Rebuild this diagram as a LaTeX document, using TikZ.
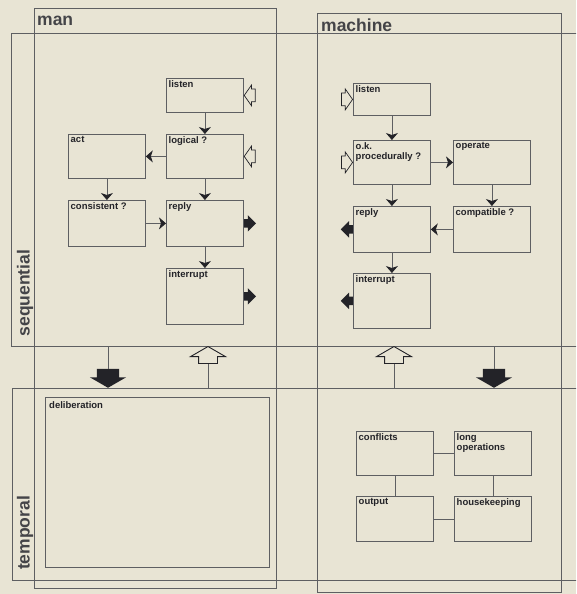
\documentclass[tikz,border=0pt]{standalone}
\usepackage{fontspec}
\setsansfont{Liberation Sans}
\usetikzlibrary{positioning,arrows.meta,shapes.arrows}
\definecolor{cPaper}{HTML}{E8E4D4}
\definecolor{cLine}{HTML}{5E5F62}
\definecolor{cInk}{HTML}{232328}

\begin{document}
\begin{tikzpicture}[x=1pt,y=-1pt,font=\sffamily\bfseries,
  frame/.style={draw=cLine,line width=0.9pt,anchor=north west,inner sep=0pt},
  box/.style={draw=cLine,line width=0.8pt,anchor=north west,inner sep=0pt,minimum width=77pt,minimum height=#1},
  lab/.style={anchor=north west,inner sep=2.5pt,align=left,text=cInk,font=\sffamily\bfseries\fontsize{9.5}{10}\selectfont},
  hd/.style={inner sep=0pt,text=cInk!85,font=\sffamily\bfseries\fontsize{17.5}{18}\selectfont},
  flow/.style={draw=cLine,line width=0.8pt,-{Stealth[length=7pt,width=12pt,inset=2pt,color=cInk]}},
  link/.style={draw=cLine,line width=0.8pt},
  inarr/.style={single arrow,draw=cInk,line width=0.7pt,fill=cPaper,inner xsep=0pt,inner ysep=6pt,minimum height=11pt,single arrow head extend=4pt,single arrow tip angle=110},
  outarr/.style={single arrow,fill=cInk,inner xsep=0pt,inner ysep=4pt,minimum height=12pt,single arrow head extend=4pt,single arrow tip angle=90},
  bigup/.style={single arrow,draw=cInk,line width=0.9pt,fill=cPaper,shape border rotate=90,inner xsep=9pt,inner ysep=0pt,minimum height=17pt,single arrow head extend=8pt,single arrow tip angle=120},
  bigdn/.style={single arrow,fill=cInk,shape border rotate=270,inner xsep=11pt,inner ysep=0pt,minimum height=19pt,single arrow head extend=7pt,single arrow tip angle=120}]
\useasboundingbox (0,0) rectangle (576,594);
\fill[cPaper] (0,0) rectangle (576,594);
\clip (0,0) rectangle (576,594);
% ---------- frames ----------
\node[frame,minimum width=242pt,minimum height=580pt] (man) at (34,8) {};
\node[frame,minimum width=244pt,minimum height=579pt] (mach) at (317,13) {};
\node[frame,minimum width=600pt,minimum height=313pt] (seq) at (11,33) {};
\node[frame,minimum width=600pt,minimum height=192pt] (temp) at (12,388) {};
\node[hd,anchor=base west] (manT) at (37,26) {man};
\node[hd,anchor=base west] (machT) at (321,32) {machine};
\node[hd,rotate=90] (seqT) at (25,293) {sequential};
\node[hd,rotate=90] (tempT) at (25,533) {temporal};
% ---------- man, sequential ----------
\node[box=34pt,label={[lab]north west:listen}] (mnLis) at (166,78) {};
\node[box=44pt,label={[lab]north west:logical ?}] (mnLog) at (166,134) {};
\node[box=44pt,label={[lab]north west:act}] (mnAct) at (68,134) {};
\node[box=46pt,label={[lab]north west:consistent ?}] (mnCon) at (68,200) {};
\node[box=46pt,label={[lab]north west:reply}] (mnRep) at (166,200) {};
\node[box=56pt,label={[lab]north west:interrupt}] (mnInt) at (166,268) {};
\foreach \a/\b in {mnLis/mnLog,mnLog/mnAct,mnAct/mnCon,mnLog/mnRep,mnCon/mnRep,mnRep/mnInt}{\draw[flow] (\a)--(\b);}
\foreach \n in {mnLis,mnLog}{\node[inarr,shape border rotate=180,anchor=tip] (\n-in) at (\n.east) {};}
\foreach \n in {mnRep,mnInt}{\node[outarr,anchor=tail] (\n-out) at (\n.east) {};}
% ---------- machine, sequential ----------
\node[box=32pt,label={[lab]north west:listen}] (mcLis) at (353,83) {};
\node[box=44pt,label={[lab]north west:{o.k.\\procedurally ?}}] (mcOk) at (353,140) {};
\node[box=44pt,label={[lab]north west:operate}] (mcOp) at (453,140) {};
\node[box=46pt,label={[lab]north west:reply}] (mcRep) at (353,206) {};
\node[box=46pt,label={[lab]north west:compatible ?}] (mcComp) at (453,206) {};
\node[box=55pt,label={[lab]north west:interrupt}] (mcInt) at (353,273) {};
\foreach \a/\b in {mcLis/mcOk,mcOk/mcOp,mcOp/mcComp,mcOk/mcRep,mcComp/mcRep,mcRep/mcInt}{\draw[flow] (\a)--(\b);}
\foreach \n in {mcLis,mcOk}{\node[inarr,anchor=tip] (\n-in) at (\n.west) {};}
\foreach \n in {mcRep,mcInt}{\node[outarr,shape border rotate=180,anchor=tail] (\n-out) at (\n.west) {};}
% ---------- between the rows ----------
\node[bigdn,anchor=tip] (mnDn) at (108,388) {};
\node[bigup,anchor=tip] (mnUp) at (208,346) {};
\node[bigup,anchor=tip] (mcUp) at (394,346) {};
\node[bigdn,anchor=tip] (mcDn) at (494,388) {};
\draw[link] (seq.south -| mnDn.tail) -- (mnDn.tail);
\draw[link] (seq.south -| mcDn.tail) -- (mcDn.tail);
\draw[link] (mnUp.tail) -- (mnUp.tail |- temp.north);
\draw[link] (mcUp.tail) -- (mcUp.tail |- temp.north);
% ---------- temporal ----------
\node[box=170pt,minimum width=224pt,label={[lab,inner sep=4pt]north west:deliberation}] (tDel) at (45,397) {};
\node[box=44pt,label={[lab]north west:conflicts}] (tCon) at (356,431) {};
\node[box=44pt,label={[lab]north west:{long\\operations}}] (tLong) at (454,431) {};
\node[box=45pt,label={[lab]north west:output}] (tOut) at (356,496) {};
\node[box=45pt,label={[lab]north west:housekeeping}] (tHouse) at (454,496) {};
\foreach \a/\b in {tCon/tLong,tCon/tOut,tLong/tHouse,tOut/tHouse}{\draw[link] (\a)--(\b);}
\end{tikzpicture}
\end{document}
